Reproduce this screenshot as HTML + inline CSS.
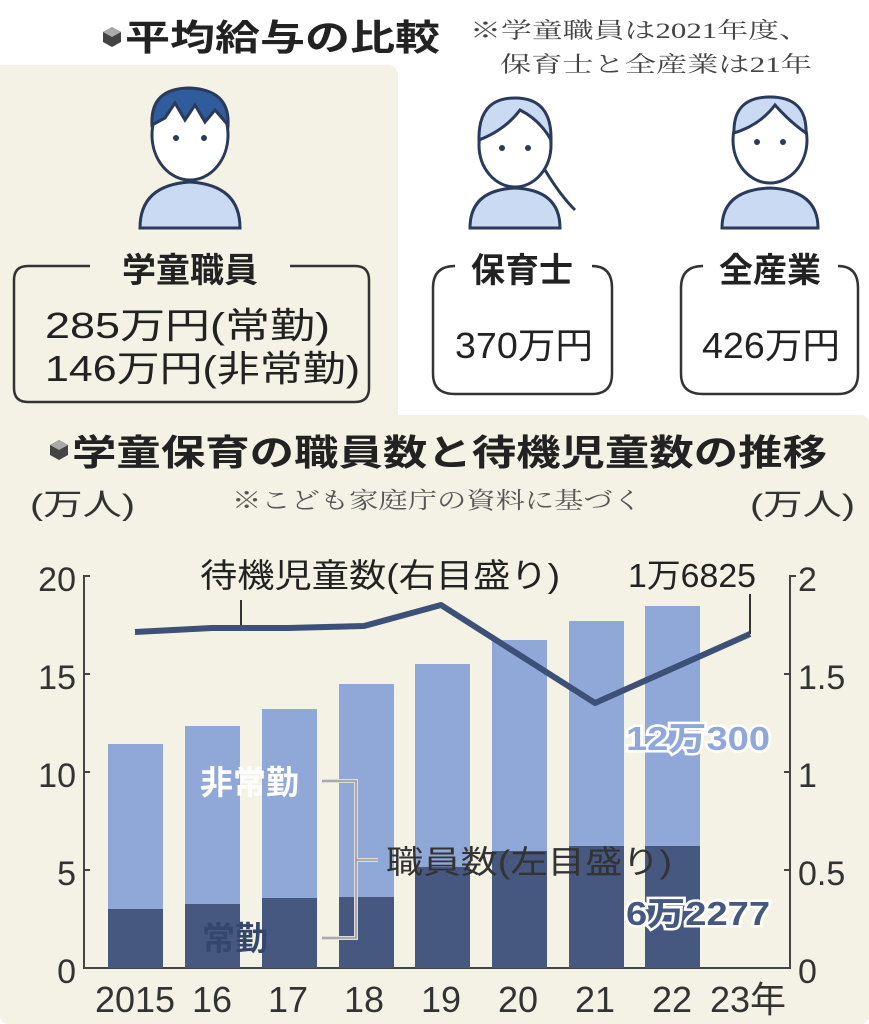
<!DOCTYPE html>
<html><head><meta charset="utf-8"><style>
html,body{margin:0;padding:0;background:#fff}
svg{display:block}
text{font-family:"Liberation Sans","Noto Sans CJK JP",sans-serif}
.s{font-family:"Liberation Serif","Noto Serif CJK SC",serif}
</style></head><body>
<svg width="869" height="1024" viewBox="0 0 869 1024" xmlns="http://www.w3.org/2000/svg">
<rect width="869" height="1024" fill="#fff"/>
<rect x="-10" y="65" width="408" height="370" rx="10" fill="#f4f2e4"/>
<rect x="0" y="415" width="869" height="609" rx="8" fill="#f4f2e4"/>
<g transform="translate(103,27)"><polygon points="9,0 18,5 18,15 9,20 0,15 0,5" fill="#444"/><polygon points="9,0 18,5 9,10 0,5" fill="#aaa"/></g>
<text x="125" y="50" font-size="36" font-weight="bold" fill="#222" textLength="315" lengthAdjust="spacingAndGlyphs">平均給与の比較</text>
<text x="470" y="38" font-size="22" fill="#444" class="s" textLength="340" lengthAdjust="spacingAndGlyphs">※学童職員は2021年度、</text>
<text x="500" y="72" font-size="22" fill="#444" class="s" textLength="312" lengthAdjust="spacingAndGlyphs">保育士と全産業は21年</text>
<g stroke="#2a3a5a" stroke-width="3" fill="#c9daf2">
 <path d="M140,228 Q140,185 190,182 Q240,185 240,228 Z"/>
 <ellipse cx="190" cy="135" rx="38" ry="45" fill="#fff"/>
 <path d="M152,125 Q150,88 190,88 Q230,90 228,125 L215,110 L205,122 L195,105 L185,120 L175,103 L165,118 Z" fill="#2f5c9c"/>
 <path d="M470,228 Q470,190 515,188 Q560,190 560,228 Z"/>
 <ellipse cx="515" cy="145" rx="36" ry="42" fill="#fff"/>
 <path d="M479,140 Q478,98 515,98 Q552,98 551,140 Q540,120 520,110 Q505,130 479,140 Z"/>
 <path d="M545,170 Q560,195 575,210" fill="none"/>
 <path d="M722,228 Q722,190 770,188 Q818,190 818,228 Z"/>
 <ellipse cx="770" cy="140" rx="37" ry="43" fill="#fff"/>
 <path d="M734,133 Q733,97 770,97 Q807,97 806,133 Q790,122 775,105 Q760,125 734,133 Z"/>
</g>
<g fill="#2a3a5a"><circle cx="176" cy="138" r="3"/><circle cx="204" cy="138" r="3"/><circle cx="502" cy="148" r="3"/><circle cx="528" cy="148" r="3"/><circle cx="757" cy="142" r="3"/><circle cx="783" cy="142" r="3"/></g>
<g fill="none" stroke="#333" stroke-width="2.5">
 <path d="M90,266 L28,266 Q14,266 14,280 L14,388 Q14,402 28,402 L355,402 Q369,402 369,388 L369,280 Q369,266 355,266 L290,266"/>
 <path d="M455,266 Q433,266 433,288 L433,374 Q433,394 455,394 L592,394 Q612,394 612,374 L612,288 Q612,266 592,266"/>
 <path d="M703,266 Q681,266 681,288 L681,374 Q681,394 703,394 L838,394 Q858,394 858,374 L858,288 Q858,266 838,266"/>
</g>
<g font-size="34" font-weight="bold" fill="#222" text-anchor="middle">
 <text x="190" y="282">学童職員</text><text x="522" y="282">保育士</text><text x="770" y="282">全産業</text>
</g>
<g font-size="36" fill="#222">
 <text x="45" y="338" textLength="285" lengthAdjust="spacingAndGlyphs">285万円(常勤)</text>
 <text x="45" y="381" textLength="315" lengthAdjust="spacingAndGlyphs">146万円(非常勤)</text>
 <text x="455" y="358" textLength="138" lengthAdjust="spacingAndGlyphs">370万円</text>
 <text x="702" y="358" textLength="138" lengthAdjust="spacingAndGlyphs">426万円</text>
</g>
<g transform="translate(50,440)"><polygon points="9,0 18,5 18,15 9,20 0,15 0,5" fill="#444"/><polygon points="9,0 18,5 9,10 0,5" fill="#aaa"/></g>
<text x="72" y="465" font-size="36" font-weight="bold" fill="#222" textLength="755" lengthAdjust="spacingAndGlyphs">学童保育の職員数と待機児童数の推移</text>
<text x="30" y="515" font-size="30" fill="#333" textLength="105" lengthAdjust="spacingAndGlyphs">(万人)</text>
<text x="750" y="515" font-size="30" fill="#333" textLength="105" lengthAdjust="spacingAndGlyphs">(万人)</text>
<text x="232" y="508" font-size="23" fill="#555" class="s" textLength="410" lengthAdjust="spacingAndGlyphs">※こども家庭庁の資料に基づく</text>
<g stroke="#444" stroke-width="2" fill="none">
 <path d="M90,576 L84,576 L84,968 L790,968 L790,576 L796,576"/>
 <path d="M84,674 L90,674 M84,772 L90,772 M84,870 L90,870"/>
 <path d="M790,674 L784,674 M790,772 L784,772 M790,870 L784,870"/>
</g>
<g font-size="34" fill="#333" text-anchor="end">
 <text x="76" y="591">20</text><text x="76" y="689">15</text><text x="76" y="787">10</text><text x="76" y="885">5</text><text x="76" y="983">0</text>
</g>
<g font-size="34" fill="#333">
 <text x="798" y="591">2</text><text x="798" y="689">1.5</text><text x="798" y="787">1</text><text x="798" y="885">0.5</text><text x="798" y="983">0</text>
</g>
<g fill="#8fa8d8">
 <rect x="108" y="744" width="55" height="224"/><rect x="185" y="726" width="55" height="242"/><rect x="262" y="709" width="55" height="259"/><rect x="339" y="684" width="55" height="284"/><rect x="415" y="664" width="55" height="304"/><rect x="492" y="640" width="55" height="328"/><rect x="569" y="621" width="55" height="347"/><rect x="645" y="606" width="55" height="362"/>
</g>
<g fill="#46587f">
 <rect x="108" y="909" width="55" height="59"/><rect x="185" y="904" width="55" height="64"/><rect x="262" y="898" width="55" height="70"/><rect x="339" y="897" width="55" height="71"/><rect x="415" y="867" width="55" height="101"/><rect x="492" y="851" width="55" height="117"/><rect x="569" y="846" width="55" height="122"/><rect x="645" y="846" width="55" height="122"/>
</g>
<g stroke="#ddd" stroke-width="4" fill="none"><path d="M322,781 L356,781 L356,938 L322,938 M356,860 L378,860"/></g>
<g stroke="#999" stroke-width="1.5" fill="none"><path d="M322,781 L356,781 L356,938 L322,938 M356,860 L378,860"/></g>
<text x="200" y="794" font-size="33" font-weight="bold" fill="#fff">非常勤</text>
<text x="202" y="950" font-size="33" font-weight="bold" fill="#33476e">常勤</text>
<text x="386" y="873" font-size="32" fill="#333" textLength="286" lengthAdjust="spacingAndGlyphs">職員数(左目盛り)</text>
<text x="626" y="750" font-size="33" font-weight="bold" fill="#8fa8d8" stroke="#fff" stroke-width="5" paint-order="stroke" textLength="144" lengthAdjust="spacingAndGlyphs">12万300</text>
<text x="626" y="925" font-size="33" font-weight="bold" fill="#46587f" stroke="#fff" stroke-width="5" paint-order="stroke" textLength="144" lengthAdjust="spacingAndGlyphs">6万2277</text>
<path d="M241,600 L241,626 M750,594 L750,634" stroke="#333" stroke-width="2"/>
<polyline points="135,632 212,628 288,628 364,626 441,605 595,703 750,634" fill="none" stroke="#3d5078" stroke-width="6" stroke-linejoin="round"/>
<text x="200" y="587" font-size="33" fill="#222" textLength="360" lengthAdjust="spacingAndGlyphs">待機児童数(右目盛り)</text>
<text x="628" y="587" font-size="33" fill="#222" textLength="128" lengthAdjust="spacingAndGlyphs">1万6825</text>
<g font-size="36" fill="#333" text-anchor="middle">
 <text x="135" y="1012">2015</text><text x="212" y="1012">16</text><text x="288" y="1012">17</text><text x="364" y="1012">18</text><text x="441" y="1012">19</text><text x="518" y="1012">20</text><text x="595" y="1012">21</text><text x="672" y="1012">22</text><text x="748" y="1012">23年</text>
</g>
</svg>
</body></html>
